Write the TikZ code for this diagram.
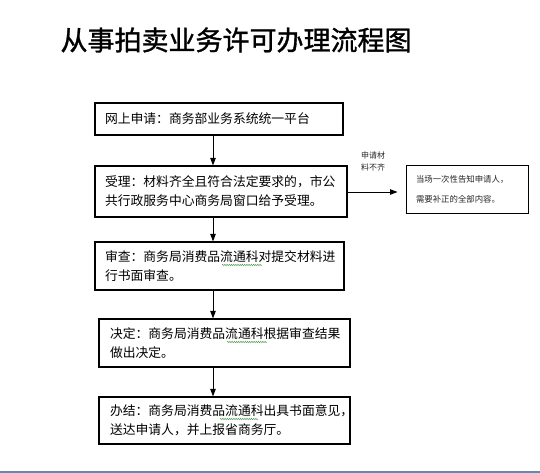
\documentclass[tikz,border=0pt]{standalone}
\usepackage{fontspec}
\setmainfont{Noto Sans CJK SC}
\newfontfamily\titlefont[FakeBold=1.2]{Noto Sans CJK SC}
\usetikzlibrary{arrows.meta,decorations.pathmorphing}
\definecolor{spell}{RGB}{90,160,90}
\definecolor{barblue}{RGB}{100,135,180}
\begin{document}
\begin{tikzpicture}[x=1pt,y=-1pt,
  stagebox/.style={draw=black,line width=1.2pt,rectangle,inner xsep=10pt,inner ysep=0pt,
    align=left,font=\fontsize{12.8}{19}\selectfont},
  sidebox/.style={draw=black,line width=1pt,rectangle,inner xsep=10pt,inner ysep=0pt,
    align=left,text=black!85,font=\fontsize{8.4}{20}\selectfont},
  arr/.style={line width=0.9pt,-{Triangle[width=5.5pt,length=7.5pt]}},
  squig/.style={draw=spell,line width=0.5pt,decorate,decoration={snake,amplitude=0.7pt,segment length=2.2pt}}]
\useasboundingbox (0,0) rectangle (540,473);
\fill[white] (0,0) rectangle (540,473);
\draw[barblue,line width=1.2pt] (0,472) -- (540,472);
\node[anchor=west,font=\titlefont\fontsize{27}{30}\selectfont] (title) at (57,40) {从事拍卖业务许可办理流程图};
\coordinate (ax) at (213,0);
\node[stagebox,text width=228pt,minimum height=32pt] (b1) at (219,119) {网上申请：商务部业务系统统一平台};
\node[stagebox,text width=232pt,minimum height=51pt] (b2) at (221,191.5) {受理：材料齐全且符合法定要求的，市公\\共行政服务中心商务局窗口给予受理。};
\node[stagebox,text width=229pt,minimum height=48pt,inner xsep=10pt] (b3) at (219.5,266) {审查：商务局消费品流通科对提交材料进\\行书面审查。};
\node[stagebox,text width=229pt,minimum height=48pt,inner xsep=11pt] (b4) at (224.5,343) {决定：商务局消费品流通科根据审查结果\\做出决定。};
\node[stagebox,text width=229pt,minimum height=47pt,inner xsep=11pt] (b5) at (224.5,420.5) {办结：商务局消费品流通科出具书面意见，\\送达申请人，并上报省商务厅。};
\node[sidebox,text width=102pt,minimum height=47pt] (b6) at (467,189.5) {当场一次性告知申请人，\\需要补正的全部内容。};
\node[align=center,text=black!85,font=\fontsize{8}{12}\selectfont] (lab) at (373,161) {申请材\\料不齐};
\draw[arr] (b1.south -| ax) -- (b2.north -| ax);
\draw[arr] (b2.south -| ax) -- (b3.north -| ax);
\draw[arr] (b3.south -| ax) -- (b4.north -| ax);
\draw[arr] (b4.south -| ax) -- (b5.north -| ax);
\draw[arr,shorten >=8pt] (b2.east |- 0,192) -- (b6.west |- 0,192);
\draw[squig] (222,265) -- (262,265);
\draw[squig] (227,342) -- (267,342);
\draw[squig] (220,419) -- (258,419);
\end{tikzpicture}
\end{document}
